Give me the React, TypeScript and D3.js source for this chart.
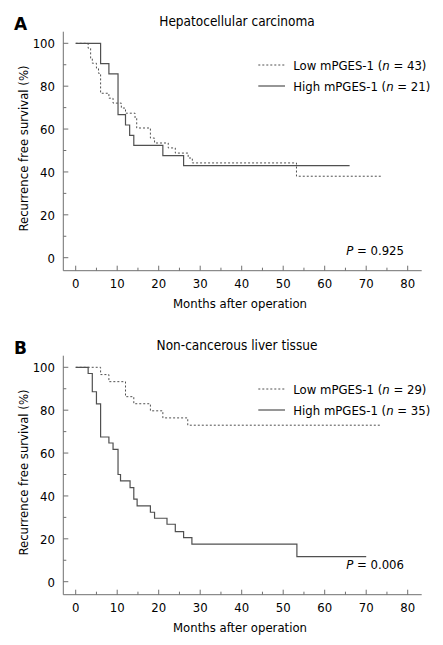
import React from "react";
import * as d3 from "d3";

// ---- Data ----
const xTicks = [0, 10, 20, 30, 40, 50, 60, 70, 80];
const yTicks = [0, 20, 40, 60, 80, 100];

// Panel A: Hepatocellular carcinoma
const hccLowTimes = [0, 3, 3.6, 4, 5, 5.5, 6, 8, 9, 11, 12, 14.3, 14.7, 18, 19, 22.3, 24, 27.1, 28.1, 53.2];
const hccLowSurv = [100, 97.7, 93.0, 90.7, 88.4, 86.0, 76.7, 74.4, 72.1, 69.8, 67.4, 65.1, 60.5, 55.8, 53.5, 51.2, 48.8, 46.5, 44.2, 38.0];
const hccLowEnd = 73.7;
const hccHighTimes = [0, 6, 8, 10.2, 12, 13, 14, 21, 26];
const hccHighSurv = [100, 90.5, 85.7, 66.7, 61.9, 57.1, 52.4, 47.6, 42.9];
const hccHighEnd = 66;

// Panel B: Non-cancerous liver tissue
const nclLowTimes = [0, 6, 8, 12, 14, 18, 21, 27];
const nclLowSurv = [100, 96.6, 93.3, 86.3, 83.0, 79.7, 76.4, 73.0];
const nclLowEnd = 73.7;
const nclHighTimes = [0, 3, 4, 5, 6, 8, 9, 10.2, 10.8, 13.1, 14, 14.8, 18, 19, 22, 24, 26, 28, 53.3];
const nclHighSurv = [100, 97.1, 88.6, 82.9, 67.5, 64.7, 61.7, 50.0, 47.0, 43.9, 38.5, 35.4, 32.4, 29.6, 26.8, 23.4, 20.6, 17.5, 11.7];
const nclHighEnd = 70;

const panels = [
  {
    letter: "A",
    title: "Hepatocellular carcinoma",
    lowN: 43,
    highN: 21,
    p: "0.925",
    pY: 255,
    low: { t: hccLowTimes, s: hccLowSurv, end: hccLowEnd },
    high: { t: hccHighTimes, s: hccHighSurv, end: hccHighEnd },
  },
  {
    letter: "B",
    title: "Non-cancerous liver tissue",
    lowN: 29,
    highN: 35,
    p: "0.006",
    pY: 245,
    low: { t: nclLowTimes, s: nclLowSurv, end: nclLowEnd },
    high: { t: nclHighTimes, s: nclHighSurv, end: nclHighEnd },
  },
];

const FONT = "'DejaVu Sans Condensed', 'DejaVu Sans', sans-serif";
const LINE = "#505050";
const AXIS = "#707070";
const TXT = "#000";

function Panel({ panel, dy }: { panel: any; dy: number }) {
  const x = d3.scaleLinear().domain([0, 80]).range([75.7, 407.7]);
  const y = d3.scaleLinear().domain([0, 100]).range([257.7 + dy, 43.3 + dy]);
  const axisX = 63.3;
  const axisY = 270.7 + dy;
  const axisTop = 31.7 + dy;
  const axisRight = 421.7;
  const line = d3
    .line<[number, number]>()
    .x((d) => x(d[0]))
    .y((d) => y(d[1]))
    .curve(d3.curveStepAfter);
  const pts = (ser: any): [number, number][] => {
    const p: [number, number][] = ser.t.map((t: number, i: number) => [t, ser.s[i]]);
    p.push([ser.end, ser.s[ser.s.length - 1]]);
    return p;
  };
  const minorX = d3.range(5, 80, 10);
  const minorY = d3.range(10, 100, 20);
  return (
    <g fontFamily={FONT}>
      <text x={14} y={30 + dy} fontSize={17} fontWeight="bold" fontFamily="'DejaVu Sans', sans-serif">
        {panel.letter}
      </text>
      <text x={237} y={25.5 + dy} fontSize={13.5} textAnchor="middle" fill={TXT}>
        {panel.title}
      </text>
      {/* axes */}
      <line x1={axisX} x2={axisX} y1={axisTop} y2={axisY} stroke={AXIS} strokeWidth={1} />
      <line x1={axisX} x2={axisRight} y1={axisY} y2={axisY} stroke={AXIS} strokeWidth={1} />
      {xTicks.map((t) => (
        <g key={"xt" + t}>
          <line x1={x(t)} x2={x(t)} y1={axisY} y2={axisY - 5} stroke={AXIS} />
          <text x={x(t)} y={axisY + 17.6} fontSize={13} textAnchor="middle" fill={TXT}>
            {t}
          </text>
        </g>
      ))}
      {minorX.map((t) => (
        <line key={"xm" + t} x1={x(t)} x2={x(t)} y1={axisY} y2={axisY - 3} stroke={AXIS} />
      ))}
      {yTicks.map((t) => (
        <g key={"yt" + t}>
          <line x1={axisX} x2={axisX + 5} y1={y(t)} y2={y(t)} stroke={AXIS} />
          <text x={55} y={y(t) + 5} fontSize={13} textAnchor="end" fill={TXT}>
            {t}
          </text>
        </g>
      ))}
      {minorY.map((t) => (
        <line key={"ym" + t} x1={axisX} x2={axisX + 3} y1={y(t)} y2={y(t)} stroke={AXIS} />
      ))}
      <text x={240} y={axisY + 37} fontSize={13} textAnchor="middle" fill={TXT}>
        Months after operation
      </text>
      <text
        transform={`translate(28,${148.5 + dy}) rotate(-90)`}
        fontSize={13}
        textAnchor="middle"
        fill={TXT}
      >
        Recurrence free survival (%)
      </text>
      {/* curves */}
      <path d={line(pts(panel.low)) || ""} fill="none" stroke={LINE} strokeWidth={1} strokeDasharray="2,2" />
      <path d={line(pts(panel.high)) || ""} fill="none" stroke={LINE} strokeWidth={1.2} />
      {/* legend */}
      <line x1={258.3} x2={285} y1={65 + dy} y2={65 + dy} stroke={LINE} strokeWidth={1} strokeDasharray="2,2" />
      <text x={293.3} y={69.5 + dy} fontSize={13} fill={TXT}>
        Low mPGES-1 (<tspan fontStyle="italic">n</tspan> = {panel.lowN})
      </text>
      <line x1={258.3} x2={285} y1={86 + dy} y2={86 + dy} stroke={LINE} strokeWidth={1.2} />
      <text x={293.3} y={90.5 + dy} fontSize={13} fill={TXT}>
        High mPGES-1 (<tspan fontStyle="italic">n</tspan> = {panel.highN})
      </text>
      <text x={404} y={panel.pY + dy} fontSize={13} textAnchor="end" fill={TXT}>
        <tspan fontStyle="italic">P</tspan> = {panel.p}
      </text>
    </g>
  );
}

export default function App() {
  return (
    <svg
      width={443}
      height={645}
      style={{ position: "absolute", left: 0, top: 0, background: "#fff" }}
    >
      <rect width={443} height={645} fill="#fff" />
      <Panel panel={panels[0]} dy={0} />
      <Panel panel={panels[1]} dy={324} />
    </svg>
  );
}
